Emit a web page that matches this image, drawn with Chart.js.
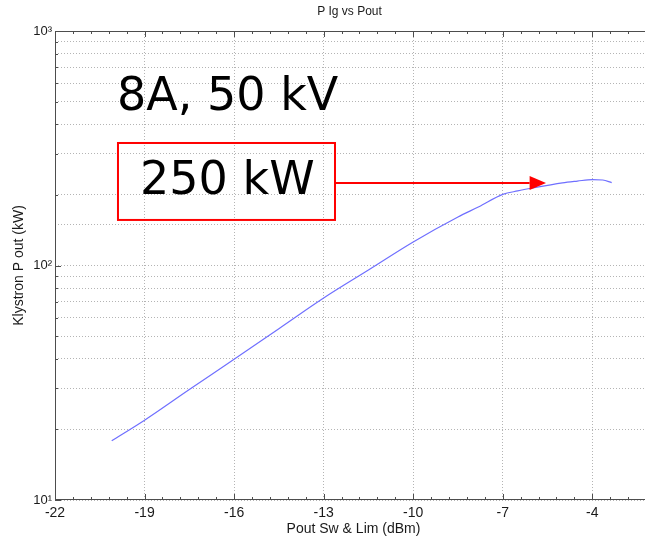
<!DOCTYPE html>
<html>
<head>
<meta charset="utf-8">
<title>P Ig vs Pout</title>
<script src="https://cdn.jsdelivr.net/npm/chart.js@4.4.0/dist/chart.umd.min.js"></script>
<style>
  html, body { margin: 0; padding: 0; background: #fff; overflow: hidden; }
  #wrap { width: 680px; height: 538px; }
</style>
</head>
<body>
<div id="wrap"><canvas id="chart" width="680" height="538"></canvas></div>
<script>
// drive power (dBm) vs klystron output power (kW)
const pIn = [-20.1, -19, -17.5, -16, -14.5, -13, -11.5, -10, -8.5, -7.8, -7, -6.5, -6, -5, -4.5, -4, -3.65, -3.35];
const pOut = [17.9, 21.9, 29.6, 39.8, 53.8, 72.7, 95.7, 126, 161, 178, 201, 208, 214, 225, 229, 232.6, 231.5, 225.5];

const xTicks = [-22, -19, -16, -13, -10, -7, -4];
const xMinorStep = 0.6;
const yDecades = [10, 100, 1000];
const supers = { 1: '\u00b9', 2: '\u00b2', 3: '\u00b3' };

const titleText = 'P Ig vs Pout';
const xTitle = 'Pout Sw & Lim (dBm)';
const yTitle = 'Klystron P out (kW)';

// annotation placed in data units
const note = { text: '8A, 50 kV', x: -19.92, y: 460 };
const boxNote = { text: '250 kW', x0: -19.89, x1: -12.62, yTop: 333, yBot: 156.4, tx: -19.15, ty: 201.8 };
const arrow = { y: 224.9, x0: -12.62, x1: -5.55, head: 0.55 };

const axisColor = '#4d4d4d';

const decorPlugin = {
  id: 'decor',
  afterDraw(chart) {
    const { ctx, chartArea: { left, right, top, bottom }, scales: { x, y } } = chart;
    ctx.save();

    // axes box
    ctx.strokeStyle = axisColor;
    ctx.lineWidth = 1;
    ctx.strokeRect(left + 0.5, top + 0.5, right - left - 1, bottom - top - 1);

    // inward ticks, x
    ctx.beginPath();
    for (let v = x.min; v <= x.max + 1e-6; v += xMinorStep) {
      const px = Math.round(x.getPixelForValue(v)) + 0.5;
      ctx.moveTo(px, bottom); ctx.lineTo(px, bottom - 3);
      ctx.moveTo(px, top); ctx.lineTo(px, top + 3);
    }
    xTicks.forEach((v) => {
      const px = Math.round(x.getPixelForValue(v)) + 0.5;
      ctx.moveTo(px, bottom); ctx.lineTo(px, bottom - 6);
      ctx.moveTo(px, top); ctx.lineTo(px, top + 6);
    });
    // inward ticks, y
    yDecades.forEach((d, i) => {
      const py = Math.round(y.getPixelForValue(d)) + 0.5;
      ctx.moveTo(left, py); ctx.lineTo(left + 6, py);
      ctx.moveTo(right, py); ctx.lineTo(right - 6, py);
      if (i === yDecades.length - 1) return;
      for (let k = 2; k <= 9; k++) {
        const pm = Math.round(y.getPixelForValue(d * k)) + 0.5;
        ctx.moveTo(left, pm); ctx.lineTo(left + 3, pm);
        ctx.moveTo(right, pm); ctx.lineTo(right - 3, pm);
      }
    });
    ctx.stroke();

    // titles
    ctx.fillStyle = '#1a1a1a';
    ctx.textAlign = 'center';
    ctx.textBaseline = 'middle';
    ctx.font = '12px "Liberation Sans", Arial, sans-serif';
    ctx.fillText(titleText, (left + right) / 2 - 4, 12);
    ctx.font = '14px "Liberation Sans", Arial, sans-serif';
    ctx.fillText(xTitle, (left + right) / 2, 529);
    ctx.save();
    ctx.translate(19, (top + bottom) / 2);
    ctx.rotate(-Math.PI / 2);
    ctx.fillText(yTitle, 0, 0);
    ctx.restore();

    // annotations
    ctx.fillStyle = '#000';
    ctx.textAlign = 'left';
    ctx.textBaseline = 'alphabetic';
    ctx.font = '46px "DejaVu Sans", sans-serif';
    ctx.fillText(note.text, x.getPixelForValue(note.x), y.getPixelForValue(note.y));
    ctx.fillText(boxNote.text, x.getPixelForValue(boxNote.tx), y.getPixelForValue(boxNote.ty));

    ctx.strokeStyle = '#ff0000';
    ctx.lineWidth = 2;
    const bx0 = x.getPixelForValue(boxNote.x0);
    const bx1 = x.getPixelForValue(boxNote.x1);
    const by0 = y.getPixelForValue(boxNote.yTop);
    const by1 = y.getPixelForValue(boxNote.yBot);
    ctx.strokeRect(bx0, by0, bx1 - bx0, by1 - by0);

    const ay = y.getPixelForValue(arrow.y);
    const ax0 = x.getPixelForValue(arrow.x0);
    const ax1 = x.getPixelForValue(arrow.x1);
    const hx = x.getPixelForValue(arrow.x1 - arrow.head);
    ctx.beginPath();
    ctx.moveTo(ax0, ay); ctx.lineTo(hx, ay);
    ctx.stroke();
    ctx.fillStyle = '#ff0000';
    ctx.beginPath();
    ctx.moveTo(ax1, ay);
    ctx.lineTo(hx, ay - 7);
    ctx.lineTo(hx, ay + 7);
    ctx.closePath();
    ctx.fill();

    ctx.restore();
  }
};

const gridOpts = { color: '#b4b4b4', lineWidth: 1, drawTicks: false };
const borderOpts = { display: false, dash: [1, 2] };

new Chart(document.getElementById('chart'), {
  type: 'line',
  data: {
    datasets: [{
      data: pIn.map((v, i) => ({ x: v, y: pOut[i] })),
      borderColor: '#6f6fff',
      borderWidth: 1.2,
      pointRadius: 0,
      cubicInterpolationMode: 'monotone',
      fill: false
    }]
  },
  options: {
    responsive: false,
    animation: false,
    devicePixelRatio: 1,
    layout: { padding: { top: 31, right: 28, left: 0, bottom: 0 } },
    plugins: { legend: { display: false }, title: { display: false }, tooltip: { enabled: false } },
    scales: {
      x: {
        type: 'linear',
        min: -22,
        max: -2,
        afterBuildTicks: (s) => { s.ticks = xTicks.map((v) => ({ value: v })); },
        afterFit: (s) => { s.height = 38; },
        ticks: {
          autoSkip: false,
          maxRotation: 0,
          padding: 5,
          color: '#1a1a1a',
          font: { family: '"Liberation Sans", Arial, sans-serif', size: 14 },
          callback: (v) => String(v)
        },
        grid: gridOpts,
        border: borderOpts
      },
      y: {
        type: 'logarithmic',
        min: 10,
        max: 1000,
        afterFit: (s) => { s.width = 55; },
        ticks: {
          autoSkip: false,
          padding: 3,
          color: '#1a1a1a',
          font: { family: '"Liberation Sans", Arial, sans-serif', size: 13 },
          callback: (v) => {
            const e = Math.log10(v);
            return Math.abs(e - Math.round(e)) < 1e-9 ? '10' + supers[Math.round(e)] : '';
          }
        },
        grid: gridOpts,
        border: borderOpts
      }
    }
  },
  plugins: [decorPlugin]
});
</script>
</body>
</html>
